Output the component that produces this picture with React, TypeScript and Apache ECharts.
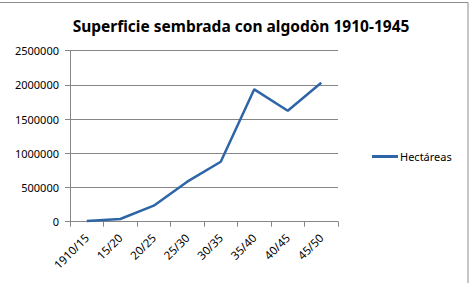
import React, { useEffect, useRef } from "react";
import * as echarts from "echarts";

const categories = ["1910/15", "15/20", "20/25", "25/30", "30/35", "35/40", "40/45", "45/50"];
const hectareas = [10000, 40000, 234000, 585000, 877000, 1935000, 1623000, 2032000];
const seriesName = "Hectáreas";
const titleText = "Superficie sembrada con algodòn 1910-1945";

export default function App() {
  const ref = useRef<HTMLDivElement>(null);
  useEffect(() => {
    if (!ref.current) return;
    const chart = echarts.init(ref.current, null, { renderer: "svg" });
    chart.setOption({
      animation: false,
      backgroundColor: "#ffffff",
      textStyle: { fontFamily: "Noto Sans" },
      title: {
        text: titleText,
        left: 236,
        top: 13,
        textAlign: "center",
        textStyle: { fontFamily: "Noto Sans", fontWeight: "bold", fontSize: 15.5, color: "#000" },
      },
      graphic: [
        {
          type: "rect",
          shape: { x: -10, y: 2.5, width: 478, height: 320 },
          style: { fill: "none", stroke: "#8c8c8c", lineWidth: 1 },
          silent: true,
        },
      ],
      legend: {
        left: 372,
        top: 151,
        padding: 0,
        data: [seriesName],
        icon: "rect",
        itemWidth: 26,
        itemHeight: 3,
        textStyle: { fontFamily: "Noto Sans", fontSize: 11, color: "#000", padding: [0, 0, 0, -3] },
      },
      grid: { left: 70, right: 137, top: 50.7, bottom: 61.3 },
      xAxis: {
        type: "category",
        data: categories,
        boundaryGap: true,
        axisLine: { lineStyle: { color: "#868686" } },
        axisTick: { show: true, alignWithLabel: false, length: 5, lineStyle: { color: "#868686" } },
        axisLabel: { rotate: 45, fontSize: 11.5, color: "#000", margin: 14, fontFamily: "Noto Sans", interval: 0 },
      },
      yAxis: {
        type: "value",
        min: 0,
        max: 2500000,
        interval: 500000,
        axisLine: { show: true, lineStyle: { color: "#868686" } },
        axisTick: { show: true, length: 5, lineStyle: { color: "#868686" } },
        splitLine: { lineStyle: { color: "#868686" } },
        axisLabel: { fontSize: 11, color: "#000", margin: 11, fontFamily: "Noto Sans", formatter: (v: number) => String(v) },
      },
      series: [
        {
          name: seriesName,
          type: "line",
          data: hectareas,
          showSymbol: false,
          symbol: "none",
          lineStyle: { color: "#2E65A6", width: 2.5 },
          itemStyle: { color: "#2E65A6" },
        },
      ],
    });
    return () => chart.dispose();
  }, []);
  return <div ref={ref} style={{ width: 475, height: 283, position: "absolute", left: 0, top: 0 }} />;
}
